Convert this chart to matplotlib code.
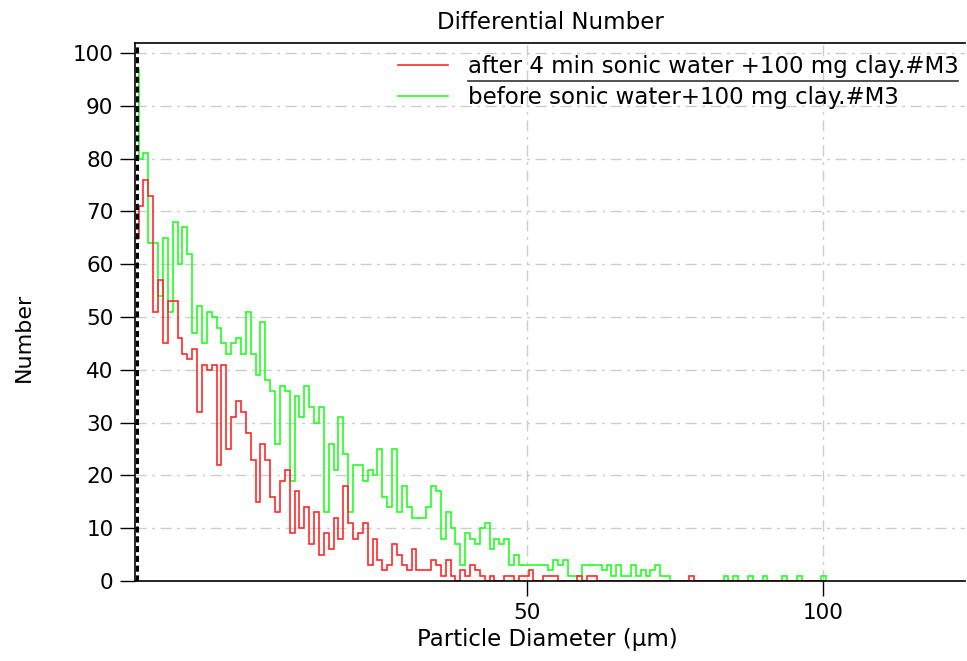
import numpy as np
import matplotlib.pyplot as plt
from matplotlib.lines import Line2D

plt.rcParams['font.family'] = ['DejaVu Sans']

# counts per size channel
after_sonic = [65, 71, 76, 73, 51, 57, 45, 53, 53, 46,
               43, 42, 44, 32, 41, 40, 41, 22, 41, 25,
               31, 34, 32, 28, 23, 15, 26, 23, 16, 13,
               19, 21, 9, 17, 10, 14, 7, 13, 5, 9,
               6, 12, 8, 18, 11, 8, 9, 11, 3, 8,
               4, 2, 3, 7, 5, 3, 2, 6, 2, 2,
               2, 4, 3, 1, 4, 1, 0, 2, 1, 3,
               2, 1, 0, 1, 0, 0, 1, 1, 0, 1,
               1, 2, 0, 0, 1, 1, 1, 0, 0, 0,
               0, 1, 0, 1, 1, 0, 0, 0, 0, 0,
               0, 0, 0, 0, 0, 0, 0, 0, 0, 0,
               0, 0, 0, 0, 1, 0, 0, 0, 0, 0,
               0, 0, 0, 0, 0, 0, 0, 0, 0, 0,
               0, 0, 0, 0, 0, 0, 0, 0, 0, 0,
               0, 0]
before_sonic = [97, 80, 81, 64, 64, 54, 65, 51, 68, 60,
                67, 62, 47, 52, 45, 51, 50, 48, 45, 43,
                45, 46, 43, 51, 43, 39, 49, 38, 36, 26,
                37, 36, 19, 35, 31, 37, 33, 30, 33, 13,
                26, 21, 31, 24, 13, 22, 22, 19, 21, 20,
                25, 16, 14, 25, 13, 18, 14, 12, 12, 12,
                14, 18, 17, 8, 13, 10, 7, 3, 9, 8,
                7, 10, 11, 6, 8, 7, 8, 3, 5, 3,
                3, 3, 3, 3, 3, 2, 4, 3, 4, 1,
                1, 1, 3, 3, 3, 3, 2, 3, 1, 3,
                1, 1, 3, 1, 2, 1, 2, 3, 1, 1,
                0, 0, 0, 0, 0, 0, 0, 0, 0, 0,
                0, 1, 0, 1, 0, 0, 1, 0, 0, 1,
                0, 0, 0, 1, 0, 0, 1, 0, 0, 0,
                0, 1]
labels = ["after 4 min sonic water +100 mg clay.#M3",
          "before sonic water+100 mg clay.#M3"]

# log spaced channel edges (µm)
d_first, d_last = 19.89, 100.7
edges = np.geomspace(d_first, d_last, len(before_sonic) + 1)

red = "#ff2a2a"
green = "#22ff22"

fig = plt.figure(figsize=(9.67, 6.61), dpi=100)
ax = fig.add_axes([135/967, 1 - 581/661, 830/967, (581 - 43)/661])

ax.stairs(before_sonic, edges, color=green, lw=1.2, baseline=0, zorder=2)
ax.stairs(after_sonic, edges, color=red, lw=1.2, baseline=0, zorder=2.1)

ax.set_xscale('log')
ax.set_xlim(19.95, 139.5)
ax.set_ylim(0, 101.9)
ax.set_xticks([50, 100])
ax.set_xticklabels(['50', '100'])
ax.xaxis.set_minor_locator(plt.NullLocator())
ax.set_yticks(np.arange(0, 101, 10))

grid_style = dict(color='#cccccc', lw=1, ls=(0, (8, 4, 2, 4)))
ax.grid(True, **grid_style)
ax.set_axisbelow(True)

ax.spines['right'].set_visible(False)
for s in ['left', 'bottom', 'top']:
    ax.spines[s].set_color('black')
    ax.spines[s].set_linewidth(1.2)
ax.tick_params(axis='both', length=10.5, width=1, direction='out',
               labelsize=15.5, pad=5, colors='black')

# dashed marker line at the lower size limit
ax.plot([0.002, 0.002], [0, 1], transform=ax.transAxes, color='black',
        lw=2.2, ls=(0, (2, 1.2)), clip_on=False, zorder=3)

ax.set_title("Differential Number", fontsize=16.5, pad=10)
ax.set_xlabel("Particle Diameter (µm)", fontsize=16.5)
ax.set_ylabel("Number", fontsize=16)
ax.yaxis.set_label_coords(-0.122, 0.4535)
ax.xaxis.set_label_coords(0.497, -0.088)

handles = [Line2D([], [], color=red, lw=1.2),
           Line2D([], [], color=green, lw=1.2)]
leg = ax.legend(handles, labels, loc='upper right', frameon=False,
                fontsize=16.5, handlelength=2.2, handletextpad=0.85,
                labelspacing=0.35, borderaxespad=0.0,
                bbox_to_anchor=(1.003, 0.994))

# underline under the selected (first) legend entry
fig.canvas.draw()
bb = leg.get_texts()[0].get_window_extent()
fx0, fx1 = bb.x0 / fig.bbox.width, bb.x1 / fig.bbox.width
fy = (bb.y0 - 3) / fig.bbox.height
fig.add_artist(Line2D([fx0, fx1], [fy, fy], color='#333333', lw=1.2))

fig.savefig("out.png", dpi=100)
